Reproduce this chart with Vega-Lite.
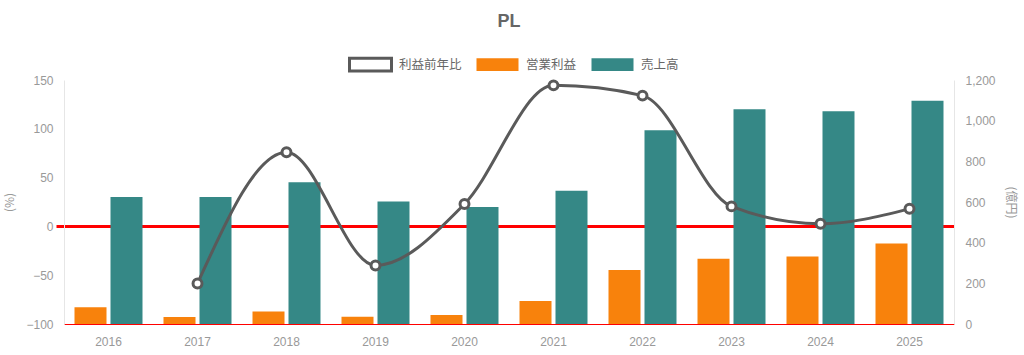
{
  "$schema": "https://vega.github.io/schema/vega-lite/v6.json",
  "width": 890,
  "height": 244,
  "autosize": {"type": "none"},
  "padding": {"left": 64, "top": 80, "right": 70, "bottom": 31},
  "background": "white",
  "title": {"text": "PL", "fontSize": 18, "fontWeight": "bold", "color": "#666666", "font": "Liberation Sans", "anchor": "middle", "frame": "group", "offset": 11},
  "config": {
    "font": "Liberation Sans",
    "view": {"stroke": null},
    "axis": {"labelColor": "#999999", "labelFontSize": 12, "titleColor": "#999999", "titleFontWeight": "normal", "titleFontSize": 12, "titleFont": "Noto Sans CJK JP"}
  },
  "data": {
    "values": [
      {"年": "2016", "売上高": 624, "営業利益": 82, "利益前年比": null},
      {"年": "2017", "売上高": 624, "営業利益": 34, "利益前年比": -58.5},
      {"年": "2018", "売上高": 697, "営業利益": 61, "利益前年比": 76},
      {"年": "2019", "売上高": 602, "営業利益": 36, "利益前年比": -40},
      {"年": "2020", "売上高": 575, "営業利益": 44, "利益前年比": 23},
      {"年": "2021", "売上高": 655, "営業利益": 113, "利益前年比": 144.5},
      {"年": "2022", "売上高": 953, "営業利益": 265, "利益前年比": 134},
      {"年": "2023", "売上高": 1056, "営業利益": 321, "利益前年比": 20.5},
      {"年": "2024", "売上高": 1046, "営業利益": 332, "利益前年比": 2.7},
      {"年": "2025", "売上高": 1098, "営業利益": 396, "利益前年比": 18}
    ]
  },
  "layer": [
    {
      "transform": [{"fold": ["営業利益", "売上高"], "as": ["系列", "値"]}],
      "mark": {"type": "bar", "strokeWidth": 1},
      "encoding": {
        "x": {
          "field": "年", "type": "nominal",
          "scale": {"paddingInner": 0.236, "paddingOuter": 0.118},
          "axis": {"title": null, "labelAngle": 0, "ticks": false, "labelPadding": 12, "domainColor": "#ff0000", "domainWidth": 1, "grid": false}
        },
        "xOffset": {"field": "系列", "type": "nominal", "sort": ["営業利益", "売上高"], "scale": {"paddingInner": 0.111, "paddingOuter": 0}},
        "y": {
          "field": "値", "type": "quantitative",
          "scale": {"domain": [0, 1200], "nice": false},
          "axis": {"orient": "right", "title": "(億円)", "values": [0, 200, 400, 600, 800, 1000, 1200], "format": ",d", "grid": false, "ticks": false, "labelPadding": 11, "domainColor": "#e6e6e6", "titlePadding": 8}
        },
        "color": {
          "field": "系列", "type": "nominal",
          "scale": {"domain": ["利益前年比", "営業利益", "売上高"], "range": ["#ffffff", "#F8820C", "#358886"]},
          "legend": {
            "orient": "none", "legendX": 284, "legendY": -38, "direction": "horizontal", "title": null,
            "symbolType": "M-1,-0.3H1V0.3H-1Z", "symbolSize": 1764, "symbolOpacity": 1, "symbolStrokeWidth": 3,
            "labelFont": "Noto Sans CJK JP", "labelFontSize": 12.5, "labelColor": "#666666", "labelOffset": 6, "columnPadding": 8
          }
        },
        "stroke": {
          "field": "系列", "type": "nominal",
          "scale": {"domain": ["利益前年比", "営業利益", "売上高"], "range": ["#5a5a5a", "transparent", "transparent"]},
          "legend": {
            "orient": "none", "legendX": 284, "legendY": -38, "direction": "horizontal", "title": null,
            "symbolType": "M-1,-0.3H1V0.3H-1Z", "symbolSize": 1764, "symbolOpacity": 1, "symbolStrokeWidth": 3,
            "labelFont": "Noto Sans CJK JP", "labelFontSize": 12.5, "labelColor": "#666666", "labelOffset": 6, "columnPadding": 8
          }
        }
      }
    },
    {
      "transform": [{"filter": "datum['利益前年比'] != null"}],
      "mark": {
        "type": "line", "interpolate": "monotone", "color": "#5a5a5a", "strokeWidth": 3,
        "point": {"filled": true, "fill": "white", "stroke": "#5a5a5a", "strokeWidth": 3, "size": 80}
      },
      "encoding": {
        "x": {"field": "年", "type": "nominal"},
        "y": {
          "field": "利益前年比", "type": "quantitative",
          "scale": {"domain": [-100, 150], "nice": false},
          "axis": {
            "orient": "left", "title": "(%)", "values": [-100, -50, 0, 50, 100, 150],
            "grid": true,
            "gridColor": {"condition": {"test": "datum.value === 0", "value": "#ff0000"}, "value": "transparent"},
            "gridWidth": 3,
            "ticks": true, "tickSize": 8,
            "tickColor": {"condition": {"test": "datum.value === 0", "value": "#ff0000"}, "value": "transparent"},
            "tickWidth": 3,
            "labelPadding": 3, "domainColor": "#e6e6e6", "titlePadding": 9
          }
        }
      }
    }
  ],
  "resolve": {"scale": {"y": "independent", "color": "independent", "stroke": "independent"}}
}
